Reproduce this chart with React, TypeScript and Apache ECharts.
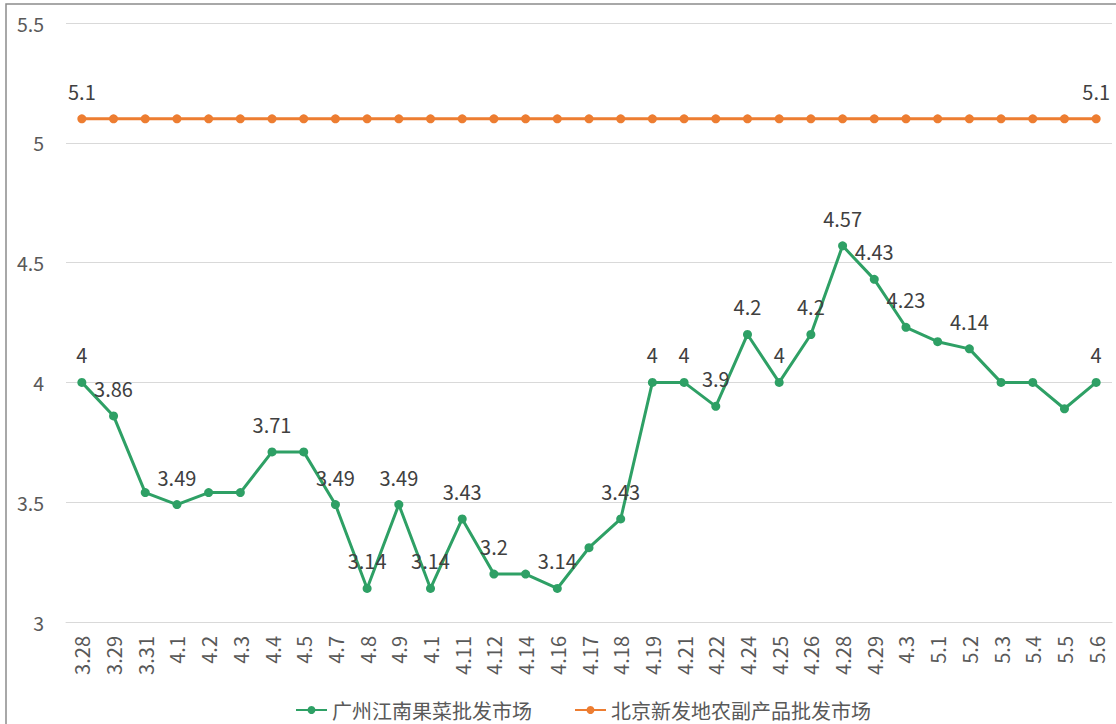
import React, { useEffect, useRef } from "react";
import * as echarts from "echarts";

const categories = [
  "3.28", "3.29", "3.31", "4.1", "4.2", "4.3", "4.4", "4.5", "4.7", "4.8", "4.9",
  "4.1", "4.11", "4.12", "4.14", "4.16", "4.17", "4.18", "4.19", "4.21", "4.22",
  "4.24", "4.25", "4.26", "4.28", "4.29", "4.3", "5.1", "5.2", "5.3", "5.4", "5.5", "5.6",
];

const guangzhouValues = [
  4, 3.86, 3.54, 3.49, 3.54, 3.54, 3.71, 3.71, 3.49, 3.14, 3.49,
  3.14, 3.43, 3.2, 3.2, 3.14, 3.31, 3.43, 4, 4, 3.9,
  4.2, 4, 4.2, 4.57, 4.43, 4.23, 4.17, 4.14, 4, 4, 3.89, 4,
];

const guangzhouLabelled = [
  1, 1, 0, 1, 0, 0, 1, 0, 1, 1, 1,
  1, 1, 1, 0, 1, 0, 1, 1, 1, 1,
  1, 1, 1, 1, 1, 1, 0, 1, 0, 0, 0, 1,
];

const beijingValues = [
  5.1, 5.1, 5.1, 5.1, 5.1, 5.1, 5.1, 5.1, 5.1, 5.1, 5.1,
  5.1, 5.1, 5.1, 5.1, 5.1, 5.1, 5.1, 5.1, 5.1, 5.1,
  5.1, 5.1, 5.1, 5.1, 5.1, 5.1, 5.1, 5.1, 5.1, 5.1, 5.1, 5.1,
];

const beijingLabelled = [
  1, 0, 0, 0, 0, 0, 0, 0, 0, 0, 0,
  0, 0, 0, 0, 0, 0, 0, 0, 0, 0,
  0, 0, 0, 0, 0, 0, 0, 0, 0, 0, 0, 1,
];

const yTicks = { min: 3, max: 5.5, interval: 0.5 };

const seriesNames = ["广州江南果菜批发市场", "北京新发地农副产品批发市场"];

const FONT = "'Noto Sans CJK SC', 'Noto Sans', sans-serif";

export default function App() {
  const ref = useRef<HTMLDivElement>(null);

  useEffect(() => {
    if (!ref.current) return;
    const chart = echarts.init(ref.current, undefined, { renderer: "svg" });

    const build = (vals: number[], flags: number[]) =>
      vals.map((v, i) => ({ value: v, label: { show: !!flags[i] } }));

    const labelStyle = {
      show: false,
      position: "top",
      distance: 13,
      fontSize: 20,
      color: "#404040",
      fontFamily: FONT,
    };

    chart.setOption({
      animation: false,
      textStyle: { fontFamily: FONT },
      graphic: [
        {
          type: "rect",
          shape: { x: 6, y: 4, width: 1300, height: 900 },
          style: { fill: "none", stroke: "#8c8c8c", lineWidth: 1.5 },
          silent: true,
          z: -1,
        },
      ],
      grid: { left: 66, right: 4, top: 23, bottom: 102, containLabel: false },
      legend: {
        top: 694,
        left: 290,
        itemWidth: 31,
        itemHeight: 10,
        itemGap: 42,
        textStyle: { fontSize: 20, lineHeight: 22, color: "#595959", fontFamily: FONT },
        data: seriesNames,
      },
      xAxis: {
        type: "category",
        data: categories,
        boundaryGap: true,
        axisLine: { lineStyle: { color: "#D9D9D9", width: 1 } },
        axisTick: { show: false },
        axisLabel: {
          rotate: 90,
          margin: 14,
          fontSize: 20,
          color: "#595959",
          fontFamily: FONT,
          interval: 0,
        },
      },
      yAxis: {
        type: "value",
        min: yTicks.min,
        max: yTicks.max,
        interval: yTicks.interval,
        axisLine: { show: false },
        axisTick: { show: false },
        splitLine: { lineStyle: { color: "#D9D9D9", width: 1 } },
        axisLabel: { fontSize: 19.5, color: "#595959", margin: 22, fontFamily: FONT },
      },
      series: [
        {
          name: seriesNames[0],
          type: "line",
          data: build(guangzhouValues, guangzhouLabelled),
          symbol: "circle",
          symbolSize: 9,
          lineStyle: { width: 3, color: "#2EA065" },
          itemStyle: { color: "#2EA065" },
          label: labelStyle,
        },
        {
          name: seriesNames[1],
          type: "line",
          data: build(beijingValues, beijingLabelled),
          symbol: "circle",
          symbolSize: 9,
          lineStyle: { width: 3, color: "#ED7D31" },
          itemStyle: { color: "#ED7D31" },
          label: labelStyle,
        },
      ],
    });

    return () => chart.dispose();
  }, []);

  return (
    <div
      ref={ref}
      style={{ position: "absolute", left: 0, top: 0, width: 1116, height: 724 }}
    />
  );
}
